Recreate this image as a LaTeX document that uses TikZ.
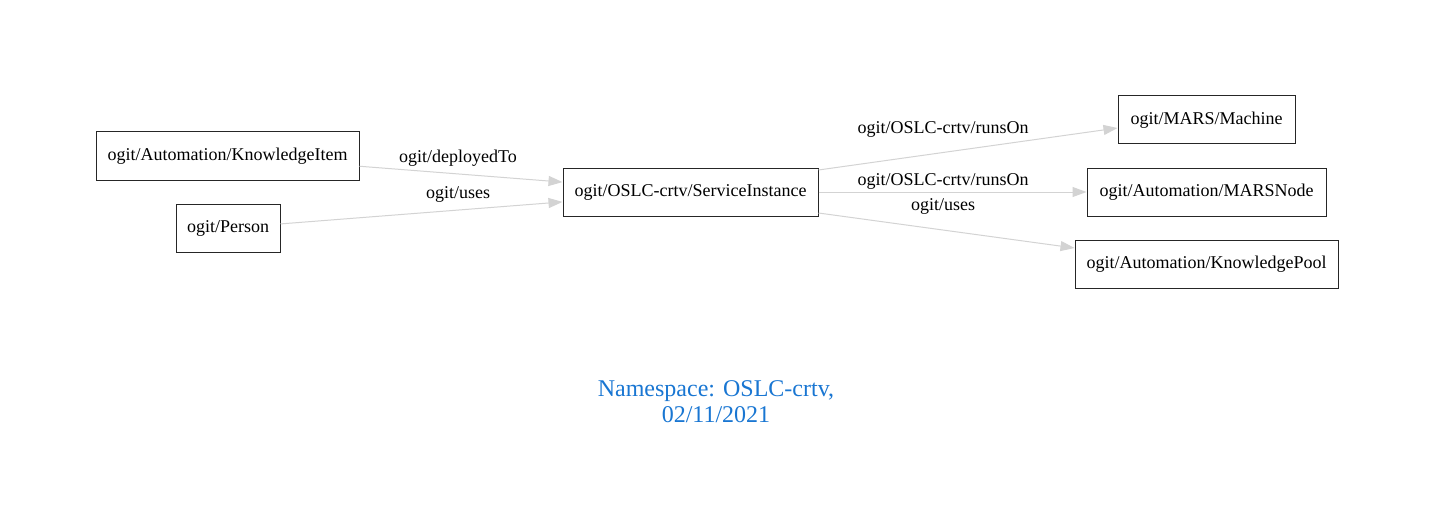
\documentclass[tikz,border=0pt]{standalone}
\usepackage{fontspec}
\setmainfont{Liberation Serif}
\usetikzlibrary{arrows.meta}
\definecolor{edgegray}{RGB}{211,211,211}
\definecolor{capblue}{RGB}{25,118,210}
\tikzset{
  box/.style={draw=black!85, line width=1pt, minimum height=48pt, inner sep=0pt, font=\fontsize{18}{20}\selectfont},
  edge/.style={draw=edgegray, line width=1pt, -{Triangle[length=14pt,width=10pt,fill=edgegray]}},
  elabel/.style={font=\fontsize{18}{20}\selectfont, inner sep=0pt},
}
\begin{document}
\begin{tikzpicture}[x=1pt,y=-1pt]
\useasboundingbox (0,0) rectangle (1435,532);
\node[box, minimum width=263pt] (ki) at (227.5,156) {ogit/Automation/KnowledgeItem};
\node[box, minimum width=104pt] (pe) at (228,228) {ogit/Person};
\node[box, minimum width=255pt] (si) at (690.5,192) {ogit/OSLC-crtv/ServiceInstance};
\node[box, minimum width=177pt] (mm) at (1206.5,120) {ogit/MARS/Machine};
\node[box, minimum width=239pt] (mn) at (1206.5,192) {ogit/Automation/MARSNode};
\node[box, minimum width=263pt] (kp) at (1206.5,264) {ogit/Automation/KnowledgePool};
\draw[edge] (ki) -- (si);
\draw[edge] (pe) -- (si);
\draw[edge] ([yshift=22pt]si.east) -- ([yshift=-8pt]mm.west);
\draw[edge] (si.east) -- (mn.west);
\draw[edge] ([yshift=-21pt]si.east) -- ([yshift=16pt]kp.west);
\node[elabel] (l1) at (458,158) {ogit/deployedTo};
\node[elabel] (l2) at (458,194) {ogit/uses};
\node[elabel] (l3) at (943,129) {ogit/OSLC-crtv/runsOn};
\node[elabel] (l4) at (943,181) {ogit/OSLC-crtv/runsOn};
\node[elabel] (l5) at (943,206) {ogit/uses};
\node[align=center, text=capblue, font=\fontsize{24}{26}\selectfont, inner sep=0pt] (cap) at (716,402) {Namespace: OSLC-crtv,\\02/11/2021};
\end{tikzpicture}
\end{document}
